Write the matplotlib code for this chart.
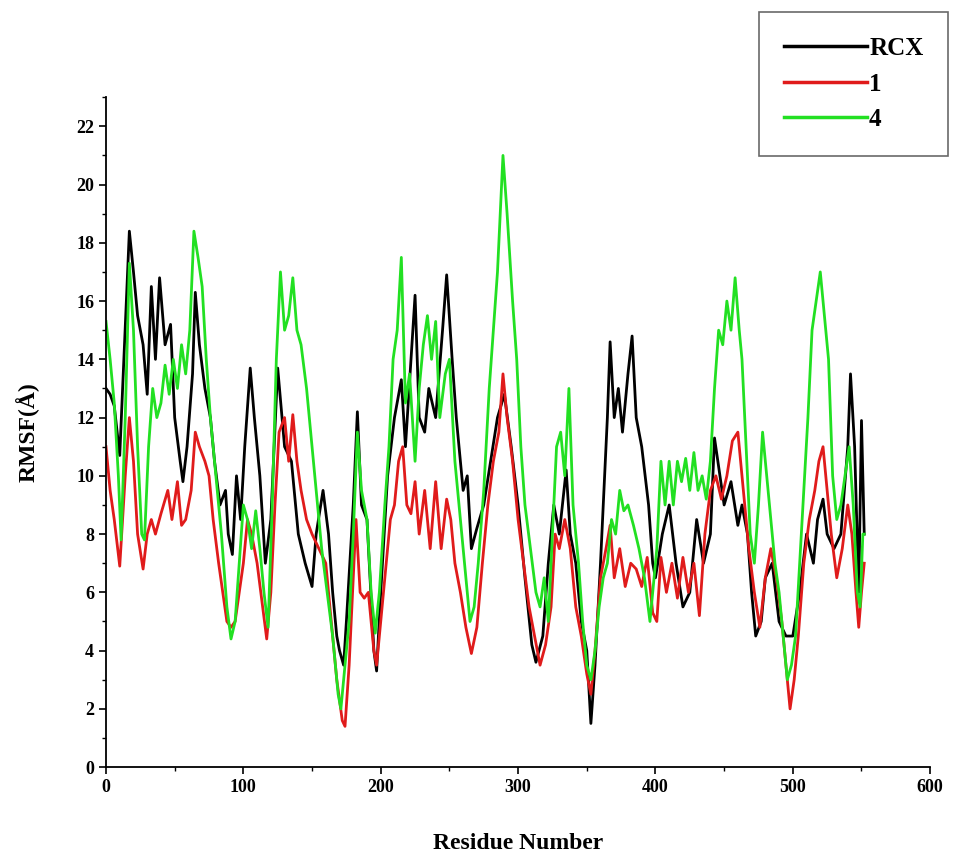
import matplotlib
matplotlib.use('Agg')
import matplotlib.pyplot as plt

plt.rcParams['font.family'] = ['Liberation Serif', 'DejaVu Serif']
plt.rcParams['font.weight'] = 'bold'

# RCX (black)
res_rcx = [0, 3, 6, 10, 13, 17, 20, 23, 27, 30, 33, 36, 39, 43, 47, 50, 54, 56, 59, 63,
           65, 68, 72, 76, 79, 83, 87, 89, 92, 95, 98, 101, 105, 108, 112, 116, 120, 125,
           130, 135, 140, 145, 150, 153, 158, 162, 165, 168, 170, 173, 175, 180, 183, 186,
           190, 195, 197, 200, 205, 210, 215, 218, 222, 225, 228, 232, 235, 240, 245, 248,
           252, 255, 260, 263, 266, 270, 275, 280, 285, 290, 295, 300, 305, 310, 313, 318,
           322, 326, 330, 335, 338, 342, 346, 350, 353, 356, 360, 365, 367, 370, 373, 376,
           380, 383, 386, 390, 395, 398, 400, 405, 410, 415, 420, 425, 430, 435, 440, 443,
           447, 450, 455, 460, 463, 467, 470, 473, 477, 480, 485, 490, 495, 500, 505, 510,
           515, 518, 522, 525, 530, 535, 540, 542, 545, 548, 550, 552]
rmsf_rcx = [13.0, 12.8, 12.4, 10.7, 14.0, 18.4, 17.0, 15.5, 14.5, 12.8, 16.5, 14.0, 16.8,
            14.5, 15.2, 12.0, 10.5, 9.8, 11.0, 13.5, 16.3, 14.5, 13.0, 12.0, 10.5, 9.0, 9.5,
            8.0, 7.3, 10.0, 8.5, 11.0, 13.7, 12.0, 10.0, 7.0, 8.5, 13.7, 11.0, 10.5, 8.0, 7.0,
            6.2, 8.0, 9.5, 8.0, 6.0, 4.5, 4.0, 3.5, 5.0, 9.0, 12.2, 9.0, 8.5, 4.0, 3.3, 6.0,
            10.0, 12.0, 13.3, 11.0, 14.0, 16.2, 12.0, 11.5, 13.0, 12.0, 15.0, 16.9, 14.0,
            12.0, 9.5, 10.0, 7.5, 8.2, 9.0, 10.5, 12.0, 12.8, 11.0, 9.0, 6.5, 4.2, 3.6, 4.5,
            7.0, 9.0, 8.0, 10.2, 8.0, 7.0, 5.0, 4.0, 1.5, 3.5, 7.0, 12.0, 14.6, 12.0, 13.0,
            11.5, 13.5, 14.8, 12.0, 11.0, 9.0, 7.0, 6.5, 8.0, 9.0, 7.0, 5.5, 6.0, 8.5, 7.0,
            8.0, 11.3, 10.0, 9.0, 9.8, 8.3, 9.0, 8.0, 6.0, 4.5, 5.0, 6.5, 7.0, 5.0, 4.5, 4.5,
            6.0, 8.0, 7.0, 8.5, 9.2, 8.0, 7.5, 8.0, 11.0, 13.5, 11.0, 6.0, 11.9, 8.0]

# compound 1 (red)
res_c1 = [0, 3, 6, 10, 14, 17, 20, 23, 27, 30, 33, 36, 40, 45, 48, 52, 55, 58, 62, 65,
          68, 72, 75, 78, 82, 85, 88, 91, 94, 97, 100, 103, 106, 110, 114, 117, 120, 123,
          126, 130, 133, 136, 139, 142, 146, 150, 155, 160, 164, 168, 172, 174, 177, 180,
          182, 185, 188, 191, 195, 197, 200, 204, 207, 210, 213, 216, 219, 222, 225, 228,
          232, 236, 240, 244, 248, 251, 254, 258, 262, 266, 270, 274, 278, 282, 286, 289,
          292, 296, 300, 304, 308, 312, 316, 320, 324, 327, 330, 334, 338, 342, 346, 350,
          353, 356, 360, 364, 367, 370, 374, 378, 382, 386, 390, 394, 398, 401, 404, 408,
          412, 416, 420, 424, 428, 432, 436, 440, 444, 448, 452, 456, 460, 464, 468, 472,
          476, 480, 484, 488, 492, 496, 498, 501, 504, 508, 512, 516, 519, 522, 525, 528,
          532, 536, 540, 543, 546, 548, 550, 552]
rmsf_c1 = [11.0, 9.5, 8.5, 6.9, 10.0, 12.0, 10.5, 8.0, 6.8, 8.0, 8.5, 8.0, 8.7, 9.5, 8.5,
           9.8, 8.3, 8.5, 9.5, 11.5, 11.0, 10.5, 10.0, 8.5, 7.0, 6.0, 5.0, 4.8, 5.0, 6.0,
           7.0, 8.5, 8.0, 7.0, 5.5, 4.4, 6.0, 9.0, 11.5, 12.0, 10.5, 12.1, 10.5, 9.5, 8.5,
           8.0, 7.5, 7.0, 5.0, 3.0, 1.6, 1.4, 3.5, 6.5, 8.5, 6.0, 5.8, 6.0, 4.0, 3.5, 5.0,
           7.0, 8.5, 9.0, 10.5, 11.0, 9.0, 8.7, 9.8, 8.0, 9.5, 7.5, 9.8, 7.5, 9.2, 8.5, 7.0,
           6.0, 4.8, 3.9, 4.8, 7.0, 9.0, 10.5, 11.5, 13.5, 12.0, 10.5, 8.5, 7.0, 5.5, 4.5,
           3.5, 4.2, 5.5, 8.0, 7.5, 8.5, 7.5, 5.5, 4.5, 3.2, 2.5, 4.0, 6.5, 7.5, 8.3, 6.5,
           7.5, 6.2, 7.0, 6.8, 6.2, 7.2, 5.3, 5.0, 7.2, 6.0, 7.0, 5.8, 7.2, 6.0, 7.0, 5.2,
           8.0, 9.5, 10.0, 9.2, 10.0, 11.2, 11.5, 9.5, 7.5, 6.0, 4.8, 6.5, 7.5, 6.5, 5.0,
           3.0, 2.0, 3.0, 4.5, 7.0, 8.5, 9.5, 10.5, 11.0, 9.5, 8.0, 6.5, 7.5, 9.0, 8.0, 6.0,
           4.8, 6.0, 7.0]

# compound 4 (green)
res_c4 = [0, 3, 6, 9, 11, 14, 17, 20, 23, 26, 28, 31, 34, 37, 40, 43, 46, 49, 52, 55, 58,
          61, 64, 67, 70, 73, 76, 80, 84, 88, 91, 94, 97, 100, 103, 106, 109, 112, 115, 118,
          121, 124, 127, 130, 133, 136, 139, 142, 146, 150, 153, 157, 161, 165, 169, 171,
          174, 177, 180, 183, 186, 190, 193, 196, 199, 203, 206, 209, 212, 215, 218, 221,
          225, 228, 231, 234, 237, 240, 243, 247, 250, 254, 258, 262, 265, 268, 271, 275,
          279, 282, 285, 289, 292, 296, 299, 302, 305, 309, 313, 316, 319, 322, 325, 328,
          331, 334, 337, 340, 344, 347, 350, 353, 356, 359, 362, 365, 368, 371, 374, 377,
          380, 384, 388, 392, 396, 398, 401, 404, 407, 410, 413, 416, 419, 422, 425, 428,
          431, 434, 437, 440, 443, 446, 449, 452, 455, 458, 461, 463, 466, 469, 472, 475,
          478, 481, 484, 487, 490, 493, 496, 499, 502, 505, 508, 511, 514, 517, 520, 523,
          526, 529, 532, 535, 538, 541, 544, 547, 549, 551, 552]
rmsf_c4 = [15.3, 14.0, 12.5, 10.0, 7.8, 12.0, 17.3, 15.0, 11.0, 8.0, 7.8, 11.0, 13.0, 12.0,
           12.5, 13.8, 12.8, 14.0, 13.0, 14.5, 13.5, 15.0, 18.4, 17.5, 16.5, 14.0, 12.0,
           10.0, 8.0, 5.5, 4.4, 5.0, 7.0, 9.0, 8.5, 7.5, 8.8, 7.5, 6.0, 4.8, 9.0, 14.0, 17.0,
           15.0, 15.5, 16.8, 15.0, 14.5, 13.0, 11.0, 9.5, 7.5, 6.0, 4.5, 2.5, 2.0, 3.5, 5.0,
           8.0, 11.5, 9.5, 8.5, 6.0, 4.6, 6.0, 9.0, 11.0, 14.0, 15.0, 17.5, 12.5, 13.5, 10.5,
           13.0, 14.5, 15.5, 14.0, 15.3, 12.0, 13.5, 14.0, 10.5, 8.5, 6.5, 5.0, 5.5, 7.0,
           9.5, 13.0, 15.0, 17.0, 21.0, 19.0, 16.0, 14.0, 11.0, 9.0, 7.5, 6.0, 5.5, 6.5, 5.0,
           8.0, 11.0, 11.5, 10.0, 13.0, 9.0, 7.0, 5.0, 3.5, 3.0, 4.0, 5.5, 6.5, 7.0, 8.5,
           8.0, 9.5, 8.8, 9.0, 8.3, 7.5, 6.5, 5.0, 6.0, 7.5, 10.5, 9.0, 10.5, 9.0, 10.5, 9.8,
           10.6, 9.5, 10.8, 9.5, 10.0, 9.2, 10.5, 13.0, 15.0, 14.5, 16.0, 15.0, 16.8, 15.0,
           14.0, 11.0, 8.0, 7.0, 9.0, 11.5, 10.0, 8.5, 7.0, 6.0, 4.5, 3.0, 3.5, 4.5, 7.0,
           9.5, 12.0, 15.0, 16.0, 17.0, 15.5, 14.0, 10.0, 8.5, 9.0, 10.0, 11.0, 9.0, 6.0,
           5.5, 8.0, 8.0]

fig = plt.figure(figsize=(9.55, 8.6), dpi=100)
ax = fig.add_axes([0.111, 0.108, 0.863, 0.779])

ax.plot(res_rcx, rmsf_rcx, color='black', lw=2.0, label='RCX')
ax.plot(res_c1, rmsf_c1, color='#e01b1b', lw=2.0, label='1')
ax.plot(res_c4, rmsf_c4, color='#22e022', lw=2.0, label='4')

ax.set_xlim(0, 600)
ax.set_ylim(0, 23)
ax.set_xticks(range(0, 601, 100))
ax.set_xticks(range(0, 601, 50), minor=True)
ax.set_yticks(range(0, 23, 2))
ax.set_yticks(range(0, 24, 1), minor=True)
ax.tick_params(axis='both', which='major', labelsize=13, length=5, width=1.2)
ax.tick_params(axis='both', which='minor', length=3, width=1)
for lab in ax.get_xticklabels() + ax.get_yticklabels():
    lab.set_fontweight('bold')

ax.spines['top'].set_visible(False)
ax.spines['right'].set_visible(False)
ax.spines['left'].set_linewidth(1.3)
ax.spines['bottom'].set_linewidth(1.3)

ax.set_xlabel('Residue Number', fontsize=17, fontweight='bold', labelpad=27)
ax.set_ylabel('RMSF(Å)', fontsize=17, fontweight='bold', labelpad=26)

leg = fig.legend(loc='upper right', bbox_to_anchor=(0.993, 0.986), fontsize=18,
                 frameon=True, fancybox=False, edgecolor='#444444', handlelength=3.3,
                 handletextpad=0.1, labelspacing=0.5, borderpad=1.0, borderaxespad=0)
leg.get_frame().set_linewidth(1.2)
for line in leg.get_lines():
    line.set_linewidth(2.5)

plt.savefig('out.png', dpi=100)
